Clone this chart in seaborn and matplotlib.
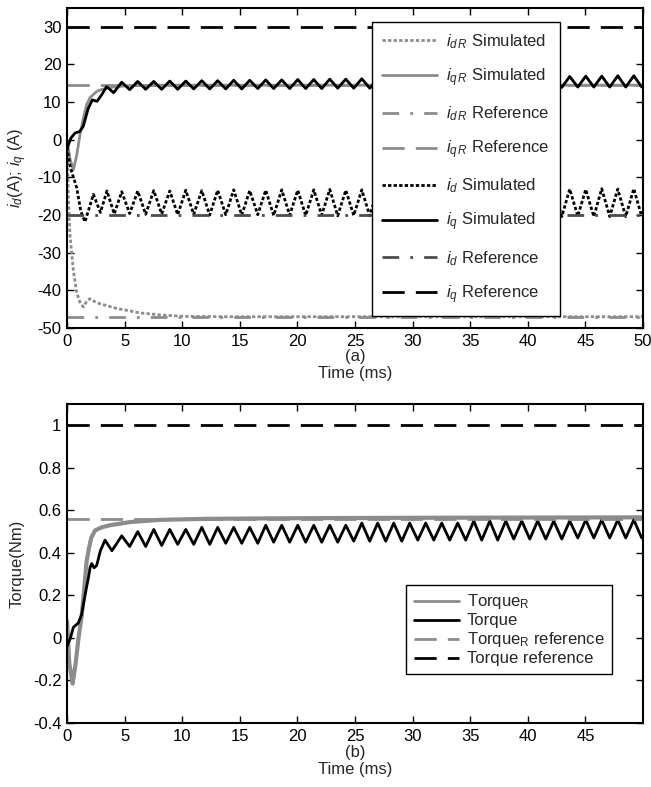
import numpy as np
import matplotlib
matplotlib.use("Agg")
import matplotlib.pyplot as plt
import seaborn as sns

# ---- data (time in ms) ----
# shared oscillation instants (peaks / troughs) after the start-up transient
t_peak = [4.75, 6.14, 7.53, 8.92, 10.31, 11.70, 13.08, 14.47, 15.86, 17.25, 18.64,
          20.03, 21.42, 22.81, 24.20, 25.59, 26.97, 28.36, 29.75, 31.14, 32.53, 33.92,
          35.31, 36.70, 38.09, 39.48, 40.86, 42.25, 43.64, 45.03, 46.42, 47.81, 49.20]
t_trough = [5.44, 6.83, 8.22, 9.61, 11.00, 12.39, 13.78, 15.17, 16.56, 17.94, 19.33,
            20.72, 22.11, 23.50, 24.89, 26.28, 27.67, 29.06, 30.45, 31.84, 33.22, 34.61,
            36.00, 37.39, 38.78, 40.17, 41.56, 42.95, 44.34, 45.73, 47.11, 48.50, 49.89]

# i_q simulated
iq_t0 = [0, 0.35, 0.7, 1.1, 1.4, 1.85, 2.2, 2.6, 3.0, 3.44, 4.05]
iq_v0 = [-2.3, 0.5, 1.8, 2.2, 3.5, 8.4, 10.6, 10.2, 11.9, 14.1, 12.5]
iq_peak = [15.3, 15.5, 15.5, 15.6, 15.6, 15.7, 15.7, 15.8, 15.8, 15.9, 15.9, 16.0, 16.0,
           16.1, 16.1, 16.2, 16.2, 16.3, 16.3, 16.4, 16.4, 16.5, 16.5, 16.6, 16.6, 16.7,
           16.7, 16.8, 16.8, 16.9, 16.9, 17.0, 17.0]
iq_trough = [13.3, 13.4, 13.4, 13.4, 13.5, 13.5, 13.5, 13.5, 13.6, 13.6, 13.6, 13.6, 13.6,
             13.7, 13.7, 13.7, 13.7, 13.7, 13.8, 13.8, 13.8, 13.8, 13.8, 13.9, 13.9, 13.9,
             13.9, 13.9, 14.0, 14.0, 14.0, 14.0, 14.0]

# i_d simulated
id_t0 = [0, 0.3, 0.84, 1.2, 1.56, 2.29, 2.9, 3.47, 4.1]
id_v0 = [-2.0, -7.5, -12.7, -19.0, -21.8, -14.5, -19.3, -13.6, -19.7]
id_peak = [-13.8, -13.6, -13.5, -13.6, -13.4, -13.5, -13.4, -13.3, -13.5, -13.4, -13.3,
           -13.4, -13.3, -13.2, -13.4, -13.3, -13.2, -13.3, -13.2, -13.3, -13.1, -13.2,
           -13.3, -13.1, -13.2, -13.1, -13.2, -13.0, -13.1, -13.2, -13.0, -13.1, -13.0]
id_trough = [-19.6, -19.8, -19.7, -19.9, -19.8, -20.0, -19.9, -20.0, -19.9, -20.1, -20.0,
             -20.1, -20.0, -20.2, -20.1, -20.2, -20.1, -20.2, -20.2, -20.3, -20.2, -20.3,
             -20.2, -20.3, -20.3, -20.4, -20.3, -20.4, -20.3, -20.4, -20.4, -20.4, -20.4]

# i_qR / i_dR simulated
iqR_t = [0, 0.25, 0.55, 0.85, 1.13, 1.4, 1.7, 2.0, 2.28, 2.57, 2.86, 3.44, 4.2, 5.5, 8.0, 50]
iqR_v = [0, -5.0, -8.0, -4.0, 1.4, 5.5, 9.3, 11.2, 12.0, 12.8, 13.2, 13.7, 14.1, 14.4, 14.5, 14.5]
idR_t = [0, 0.12, 0.25, 0.55, 0.84, 1.1, 1.42, 1.7, 1.99, 2.57, 3.15, 4.31, 5.2, 6.34, 8.07,
         10.0, 14.0, 50]
idR_v = [0, -15.0, -25.0, -34.7, -40.5, -43.0, -44.4, -43.0, -42.2, -43.3, -43.8, -44.8,
         -45.3, -46.0, -46.5, -46.9, -47.0, -47.0]

# references (A)
id_ref, iq_ref, idR_ref, iqR_ref = -20, 30, -47, 14.5

# torque
tq_t0 = [0, 0.3, 0.55, 0.98, 1.27, 1.5, 1.7, 1.85, 2.0, 2.14, 2.35, 2.57, 2.9, 3.3, 3.9]
tq_v0 = [-0.04, 0.0, 0.05, 0.07, 0.11, 0.18, 0.24, 0.28, 0.33, 0.35, 0.33, 0.34, 0.41, 0.46, 0.41]
tq_peak = [0.48, 0.50, 0.51, 0.51, 0.51, 0.52, 0.52, 0.52, 0.52, 0.53, 0.53, 0.53, 0.53,
           0.53, 0.53, 0.54, 0.54, 0.54, 0.54, 0.54, 0.54, 0.54, 0.55, 0.55, 0.55, 0.55,
           0.55, 0.55, 0.55, 0.555, 0.555, 0.555, 0.555]
tq_trough = [0.43, 0.43, 0.435, 0.44, 0.44, 0.44, 0.445, 0.445, 0.445, 0.45, 0.45, 0.45,
             0.45, 0.45, 0.455, 0.455, 0.455, 0.455, 0.46, 0.46, 0.46, 0.46, 0.46, 0.46,
             0.465, 0.465, 0.465, 0.465, 0.47, 0.47, 0.47, 0.47, 0.47]
tqR_t = [0, 0.2, 0.49, 0.75, 1.0, 1.27, 1.56, 1.7, 1.9, 2.1, 2.43, 3.0, 3.73, 5.5, 8.0, 12, 20,
         30, 40, 50]
tqR_v = [0.08, -0.12, -0.215, -0.12, 0.0, 0.1, 0.27, 0.36, 0.42, 0.47, 0.505, 0.52, 0.53,
         0.545, 0.555, 0.56, 0.563, 0.565, 0.566, 0.567]
torque_ref, torqueR_ref = 1.0, 0.56


def join(t0, v0, peaks, troughs):
    # start-up part followed by peak/trough pairs
    t = list(t0)
    v = list(v0)
    for tp, vp, tt, vt in zip(t_peak, peaks, t_trough, troughs):
        t += [tp, tt]
        v += [vp, vt]
    return t, v


sns.set_theme(style="ticks")
plt.rcParams["font.family"] = ["Liberation Sans", "DejaVu Sans"]
plt.rcParams["mathtext.fontset"] = "custom"
plt.rcParams["mathtext.rm"] = "Liberation Sans"
plt.rcParams["mathtext.it"] = "Liberation Sans:italic"
plt.rcParams["mathtext.bf"] = "Liberation Sans:bold"
plt.rcParams["lines.solid_joinstyle"] = "round"

FS = 12
GREY = "#8c8c8c"
DGREY = "#4d4d4d"

fig = plt.figure(figsize=(6.51, 7.87), dpi=100)
ax1 = fig.add_axes([67 / 651, (787 - 328) / 787, 576 / 651, 320 / 787])
ax2 = fig.add_axes([67 / 651, (787 - 723) / 787, 576 / 651, 319 / 787])

kw = dict(estimator=None, sort=False)
span = [0, 50]

# ---- (a) currents ----
sns.lineplot(x=idR_t, y=idR_v, ax=ax1, color=GREY, lw=2, linestyle=(0, (1.2, 0.8)),
             label=r"$i_{d\,R}$ Simulated", **kw)
sns.lineplot(x=iqR_t, y=iqR_v, ax=ax1, color=GREY, lw=2, linestyle="-",
             label=r"$i_{q\,R}$ Simulated", **kw)
sns.lineplot(x=span, y=[idR_ref, idR_ref], ax=ax1, color=GREY, lw=2,
             linestyle=(0, (6, 4, 1, 4)), label=r"$i_{d\,R}$ Reference", **kw)
sns.lineplot(x=span, y=[iqR_ref, iqR_ref], ax=ax1, color=GREY, lw=2,
             linestyle=(0, (8, 4)), label=r"$i_{q\,R}$ Reference", **kw)
t, v = join(id_t0, id_v0, id_peak, id_trough)
sns.lineplot(x=t, y=v, ax=ax1, color="black", lw=2, linestyle=(0, (1.2, 0.8)),
             label=r"$i_d$ Simulated", **kw)
t, v = join(iq_t0, iq_v0, iq_peak, iq_trough)
sns.lineplot(x=t, y=v, ax=ax1, color="black", lw=2, linestyle="-",
             label=r"$i_q$ Simulated", **kw)
sns.lineplot(x=span, y=[id_ref, id_ref], ax=ax1, color=DGREY, lw=2,
             linestyle=(0, (6, 4, 1, 4)), label=r"$i_d$ Reference", **kw)
sns.lineplot(x=span, y=[iq_ref, iq_ref], ax=ax1, color="black", lw=2,
             linestyle=(0, (8, 4)), label=r"$i_q$ Reference", **kw)

ax1.set_xlim(0, 50)
ax1.set_ylim(-50, 35)
ax1.set_xticks(range(0, 51, 5))
ax1.set_yticks(range(-50, 31, 10))
ax1.set_yticklabels([str(v) for v in range(-50, 31, 10)])
ax1.set_xlabel("(a)\nTime (ms)", fontsize=FS, linespacing=1.2, labelpad=0)
ax1.set_ylabel(r"$i_d$(A); $i_q$ (A)", fontsize=FS)
h, l = ax1.get_legend_handles_labels()
ax1.legend(h, l, loc="upper left", bbox_to_anchor=(0.53, 0.956), fontsize=FS,
           handlelength=3.3, handletextpad=0.55, labelspacing=0.93, borderpad=0.6,
           borderaxespad=0, frameon=True, fancybox=False, framealpha=1,
           edgecolor="black")

# ---- (b) torque ----
sns.lineplot(x=tqR_t, y=tqR_v, ax=ax2, color=GREY, lw=3, linestyle="-",
             label=r"Torque$_\mathrm{R}$", **kw)
t, v = join(tq_t0, tq_v0, tq_peak, tq_trough)
sns.lineplot(x=t, y=v, ax=ax2, color="black", lw=2, linestyle="-", label="Torque", **kw)
sns.lineplot(x=span, y=[torqueR_ref, torqueR_ref], ax=ax2, color=GREY, lw=2,
             linestyle=(0, (8, 4)), label=r"Torque$_\mathrm{R}$ reference", **kw)
sns.lineplot(x=span, y=[torque_ref, torque_ref], ax=ax2, color="black", lw=2,
             linestyle=(0, (8, 4)), label="Torque reference", **kw)

ax2.set_xlim(0, 50)
ax2.set_ylim(-0.4, 1.1)
ax2.set_xticks(range(0, 46, 5))
ax2.set_yticks([-0.4, -0.2, 0, 0.2, 0.4, 0.6, 0.8, 1])
ax2.set_yticklabels(["-0.4", "-0.2", "0", "0.2", "0.4", "0.6", "0.8", "1"])
ax2.set_xlabel("(b)\nTime (ms)", fontsize=FS, linespacing=1.15, labelpad=1)
ax2.set_ylabel("Torque(Nm)", fontsize=FS)
h, l = ax2.get_legend_handles_labels()
leg2 = ax2.legend(h, l, loc="upper left", bbox_to_anchor=(0.589, 0.433), fontsize=FS,
                  handlelength=2.7, handletextpad=0.5, labelspacing=0.12, borderpad=0.45,
                  borderaxespad=0, frameon=True, fancybox=False, framealpha=1,
                  edgecolor="black")
leg2.get_lines()[0].set_linewidth(2)

for ax in (ax1, ax2):
    for s in ax.spines.values():
        s.set_linewidth(1.5)
        s.set_color("black")
    ax.tick_params(direction="in", top=True, right=True, length=5, width=1,
                   labelsize=FS, pad=4, colors="black")
    ax.get_legend().get_frame().set_linewidth(1.0)

ax1.yaxis.set_label_coords(-0.066, 0.5)
ax2.yaxis.set_label_coords(-0.074, 0.5)

fig.savefig("out.png", dpi=100)
